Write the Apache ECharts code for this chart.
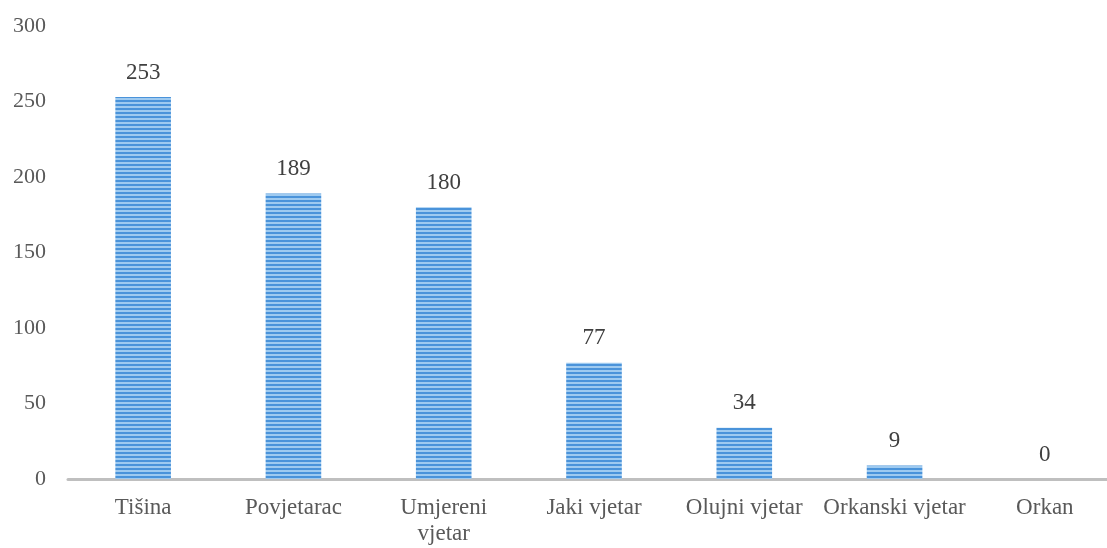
<!DOCTYPE html>
<html>
<head>
<meta charset="utf-8">
<script src="https://cdn.jsdelivr.net/npm/echarts@6/dist/echarts.min.js"></script>
<style>
  html, body { margin: 0; padding: 0; background: #fff; }
  #chart { width: 1107px; height: 548px; }
</style>
</head>
<body>
<div id="chart"></div>
<script>
// kategorije i vrijednosti
const categories = ['Tišina', 'Povjetarac', 'Umjereni\nvjetar', 'Jaki vjetar', 'Olujni vjetar', 'Orkanski vjetar', 'Orkan']
const values = [253, 189, 180, 77, 34, 9, 0]
const yTicks = [0, 50, 100, 150, 200, 250, 300]

// prugasti uzorak za stupce
const makeStripes = () => {
  const c = document.createElement('canvas')
  c.width = 8
  c.height = 4
  const ctx = c.getContext('2d')
  ctx.fillStyle = '#4a93da'
  ctx.fillRect(0, 0, 8, 4)
  ctx.fillStyle = '#9ecaf0'
  ctx.fillRect(0, 2, 8, 2)
  return c
}

const myChart = echarts.init(document.getElementById('chart'))
const font = '"Liberation Serif", "Times New Roman", serif'

const option = {
  animation: false,
  grid: {
    left: 68,
    width: 1052,
    top: 26,
    bottom: 69,
    containLabel: false,
    outerBoundsMode: 'none' // inače v6 stišće grid unutar prozora
  },
  xAxis: {
    type: 'category',
    data: categories,
    axisLine: { lineStyle: { color: '#bfbfbf', width: 3 } },
    axisTick: { show: false },
    axisLabel: {
      interval: 0,
      margin: 16,
      color: '#595959',
      fontSize: 23,
      fontFamily: font,
      lineHeight: 26
    }
  },
  yAxis: {
    type: 'value',
    min: yTicks[0],
    max: yTicks[yTicks.length - 1],
    interval: 50,
    splitLine: { show: false },
    axisLine: { show: false },
    axisTick: { show: false },
    axisLabel: {
      margin: 22,
      color: '#595959',
      fontSize: 22,
      fontFamily: font
    }
  },
  series: [
    {
      type: 'bar',
      data: values,
      barWidth: '37%',
      itemStyle: {
        color: { image: makeStripes(), repeat: 'repeat' }
      },
      label: {
        show: true,
        position: 'top',
        distance: 13,
        color: '#404040',
        fontSize: 23,
        fontFamily: font
      }
    }
  ]
}
myChart.setOption(option)
</script>
</body>
</html>
